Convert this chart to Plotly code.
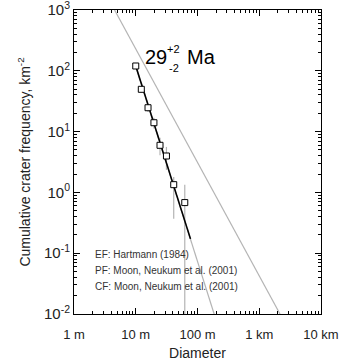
import plotly.graph_objects as go

# Crater data (diameter in m, cumulative frequency per km^2)
diam = [10.0, 12.3, 15.8, 19.7, 24.7, 31.4, 41.2, 62.2]
freq = [120, 49.6, 24.7, 14.0, 5.95, 3.97, 1.34, 0.68]
err_hi = [132, 55.5, 28.7, 16.9, 7.9, 5.6, 1.8, 1.34]
err_lo = [110, 44.0, 21.0, 11.2, 4.1, 2.35, 0.37, 0.005]

# fitted isochron (black) over fit range
fit_d = [10.0, 77.0]
fit_n = [120, 0.172]

# reference curves (grey)
iso_d = [10.0, 186.0]
iso_n = [118, 0.01]
ref_d = [4.54, 2168.0]
ref_n = [1000, 0.01]

x_decades = [1, 10, 100, 1000, 10000]
x_ticktext = ["1 m", "10 m", "100 m", "1 km", "10 km"]
y_decades = [1e-2, 1e-1, 1, 10, 100, 1000]
y_ticktext = ["10<sup>-2</sup>", "10<sup>-1</sup>", "10<sup>0</sup>",
              "10<sup>1</sup>", "10<sup>2</sup>", "10<sup>3</sup>"]

legend_lines = ["EF: Hartmann (1984)",
                "PF: Moon, Neukum et al. (2001)",
                "CF: Moon, Neukum et al. (2001)"]

FONT = "Liberation Sans, Arial, Helvetica, sans-serif"
GREY = "#b4b4b4"

# error bar segments built from the data arrays
eb_x, eb_y = [], []
for d, lo, hi in zip(diam, err_lo, err_hi):
    eb_x += [d, d, None]
    eb_y += [lo, hi, None]


def all_ticks(decades, labels):
    vals, texts = [], []
    for v, t in zip(decades, labels):
        vals.append(v)
        texts.append(t)
        if v != decades[-1]:
            for m in range(2, 10):
                vals.append(m * v)
                texts.append("")
    return vals, texts


xv, xt = all_ticks(x_decades, x_ticktext)
yv, yt = all_ticks(y_decades, y_ticktext)

fig = go.Figure()
fig.add_trace(go.Scatter(x=ref_d, y=ref_n, mode="lines",
                         line=dict(color=GREY, width=1.2), hoverinfo="skip"))
fig.add_trace(go.Scatter(x=iso_d, y=iso_n, mode="lines",
                         line=dict(color=GREY, width=1.2), hoverinfo="skip"))
fig.add_trace(go.Scatter(x=eb_x, y=eb_y, mode="lines",
                         line=dict(color=GREY, width=1.2), hoverinfo="skip"))
fig.add_trace(go.Scatter(x=fit_d, y=fit_n, mode="lines",
                         line=dict(color="black", width=1.6)))
fig.add_trace(go.Scatter(x=diam, y=freq, mode="markers",
                         marker=dict(symbol="square", size=6, color="white",
                                     line=dict(color="black", width=1))))
# invisible trace anchoring the overlay axes that carry the long decade ticks
fig.add_trace(go.Scatter(x=diam[:1], y=freq[:1], mode="markers",
                         marker=dict(opacity=0), xaxis="x2", yaxis="y2",
                         hoverinfo="skip"))

base = dict(type="log", showgrid=False, zeroline=False, automargin=False,
            tickcolor="black", tickwidth=1, ticks="inside")

fig.update_layout(
    xaxis=dict(range=[0, 4], tickmode="array", tickvals=xv, ticktext=xt,
               showline=True, linecolor="black", linewidth=1, mirror="allticks",
               ticklen=3, ticklabelstandoff=8, ticklabeloverflow="allow",
               tickfont=dict(family=FONT, size=13, color="#222"),
               title=dict(text="Diameter", font=dict(family=FONT, size=14, color="#222"),
                          standoff=7),
               **base),
    yaxis=dict(range=[-2, 3], tickmode="array", tickvals=yv, ticktext=yt,
               showline=True, linecolor="black", linewidth=1, mirror="allticks",
               ticklen=3, ticklabelstandoff=0, ticklabeloverflow="allow",
               tickfont=dict(family=FONT, size=15, color="#222"),
               title=dict(text="Cumulative crater frequency, km<sup>-2</sup>",
                          font=dict(family=FONT, size=14, color="#222"),
                          standoff=10),
               **base),
    xaxis2=dict(range=[0, 4], overlaying="x", side="bottom", anchor="y2",
                tickmode="array", tickvals=x_decades, ticklen=6,
                showticklabels=False, showline=False, mirror="allticks", **base),
    yaxis2=dict(range=[-2, 3], overlaying="y", side="left", anchor="x2",
                tickmode="array", tickvals=y_decades, ticklen=6,
                showticklabels=False, showline=False, mirror="allticks", **base),
)

ann = []
ann.append(dict(text="29", x=0.279, y=0.845, xref="paper", yref="paper",
                xanchor="left", yanchor="middle", showarrow=False,
                font=dict(family=FONT, size=20, color="black")))
ann.append(dict(text="+2", x=0.37, y=0.872, xref="paper", yref="paper",
                xanchor="left", yanchor="middle", showarrow=False,
                font=dict(family=FONT, size=11, color="black")))
ann.append(dict(text="-2", x=0.376, y=0.808, xref="paper", yref="paper",
                xanchor="left", yanchor="middle", showarrow=False,
                font=dict(family=FONT, size=11, color="black")))
ann.append(dict(text="Ma", x=0.45, y=0.845, xref="paper", yref="paper",
                xanchor="left", yanchor="middle", showarrow=False,
                font=dict(family=FONT, size=20, color="black")))
for i, t in enumerate(legend_lines):
    ann.append(dict(text=t, x=0.075, y=0.197 - i * 0.054, xref="paper", yref="paper",
                    xanchor="left", yanchor="middle", showarrow=False,
                    font=dict(family=FONT, size=10, color="#333")))

fig.update_layout(width=340, height=361,
                  margin=dict(l=74, r=19, t=10, b=47),
                  paper_bgcolor="white", plot_bgcolor="white",
                  showlegend=False, annotations=ann)

fig.write_html("out.html", config={"displayModeBar": False},
               post_script="document.body.style.margin='0';document.body.style.overflow='hidden';")
